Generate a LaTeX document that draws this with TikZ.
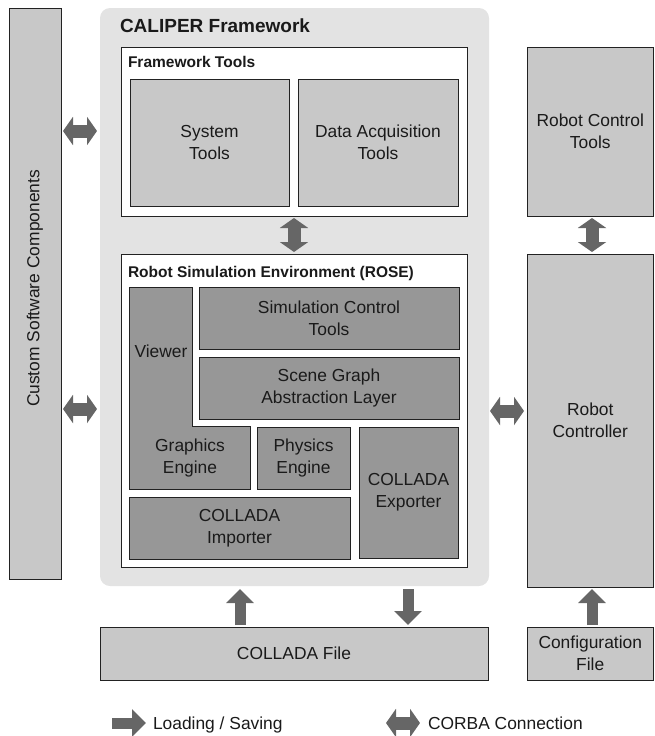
\documentclass[tikz,border=0pt]{standalone}
\usepackage{fontspec}
\setmainfont{Liberation Sans}
\usetikzlibrary{arrows.meta}
\definecolor{lightbox}{HTML}{C8C8C8}
\definecolor{darkbox}{HTML}{979797}
\definecolor{fwbg}{HTML}{E3E3E3}
\definecolor{arrowgray}{HTML}{666666}
\definecolor{edge}{HTML}{222222}
\definecolor{txt}{HTML}{1A1A1A}
\begin{document}
\begin{tikzpicture}[x=1pt,y=-1pt,
  every node/.style={inner sep=0pt, outer sep=0pt, text=txt, align=center,
    font=\fontsize{17.4pt}{21.6pt}\selectfont},
  lbox/.style={draw=edge, line width=0.9pt, fill=lightbox, anchor=north west},
  dbox/.style={draw=edge, line width=0.9pt, fill=darkbox, anchor=north west},
  wbox/.style={draw=edge, line width=0.9pt, fill=white, anchor=north west},
  corba/.style={draw=arrowgray, line width=13pt,
    {Triangle[length=10pt,width=28pt]}-{Triangle[length=10pt,width=28pt]}},
  load/.style={draw=arrowgray, line width=11pt, -{Triangle[length=14pt,width=27pt]}},
  ttl/.style={anchor=base west, font=\bfseries\fontsize{19pt}{22pt}\selectfont},
  sttl/.style={anchor=base west, font=\bfseries\fontsize{15.5pt}{18pt}\selectfont},
]
\useasboundingbox (0,0) rectangle (654,736);

% Custom software components
\node[lbox, minimum width=52pt, minimum height=571pt] (custom) at (9,8) {};
\node[rotate=90] (customlbl) at ([yshift=5pt]custom.center) {Custom Software Components};

% CALIPER framework background
\node[fill=fwbg, rounded corners=10pt, anchor=north west,
      minimum width=389pt, minimum height=578pt] (fw) at (100,8) {};
\node[ttl] (fwtitle) at (120,32) {CALIPER Framework};

% Framework tools
\node[wbox, minimum width=346pt, minimum height=169pt] (ft) at (121,47) {};
\node[sttl] (fttitle) at (128,67.5) {Framework Tools};
\node[lbox, minimum width=159pt, minimum height=127pt] (sys) at (130,79) {System\\Tools};
\node[lbox, minimum width=160pt, minimum height=127pt] (daq) at (298,79) {Data Acquisition\\Tools};

% ROSE
\node[wbox, minimum width=346pt, minimum height=313pt] (rose) at (121,254) {};
\node[sttl] (rosetitle) at (128,277.5) {Robot Simulation Environment (ROSE)};
\draw[draw=edge, line width=0.9pt, fill=darkbox]
  (129,287) -- (192,287) -- (192,426) -- (250,426) -- (250,489) -- (129,489) -- cycle;
\node (viewer) at (161,351) {Viewer};
\node (gfx) at (190,458) {Graphics\\Engine};
\node[dbox, minimum width=260pt, minimum height=62pt] (sim) at (199,287) {Simulation Control\\Tools};
\node[dbox, minimum width=260pt, minimum height=62pt] (scene) at (199,357) {Scene Graph\\Abstraction Layer};
\node[dbox, minimum width=93pt, minimum height=62pt] (phys) at (257,427) {Physics\\Engine};
\node[dbox, minimum width=99pt, minimum height=131pt] (exp) at (359,427) {COLLADA\\Exporter};
\node[dbox, minimum width=221pt, minimum height=62pt] (imp) at (129,497) {COLLADA\\Importer};

% Robot side
\node[lbox, minimum width=126.5pt, minimum height=169pt] (rct) at (527,47) {Robot Control\\Tools};
\node[lbox, minimum width=126.5pt, minimum height=333pt] (rc) at (527,254) {Robot\\Controller};
\node[lbox, minimum width=126.5pt, minimum height=53pt] (conf) at (527,627) {Configuration\\File};

% COLLADA file
\node[lbox, minimum width=388pt, minimum height=53pt] (cfile) at (100,627) {COLLADA File};

% Connectors
\draw[corba, shorten <=2pt, shorten >=3pt] (custom.east |- 0,131) -- (fw.west |- 0,131);
\draw[corba, shorten <=2pt, shorten >=3pt] (custom.east |- 0,409) -- (fw.west |- 0,409);
\draw[corba, shorten <=1pt, shorten >=3pt] (fw.east |- 0,411) -- (rc.west |- 0,411);
\draw[corba, shorten <=2pt, shorten >=2pt] (ft.south -| 294,0) -- (rose.north -| 294,0);
\draw[corba, shorten <=2pt, shorten >=2pt] (rct.south -| 592,0) -- (rc.north -| 592,0);
\draw[load, shorten <=2pt, shorten >=3pt] (cfile.north -| 240,0) -- (fw.south -| 240,0);
\draw[load, shorten <=3pt, shorten >=2pt] (fw.south -| 408,0) -- (cfile.north -| 408,0);
\draw[load, shorten <=2pt, shorten >=2pt] (conf.north -| 592,0) -- (rc.south -| 592,0);

% Legend
\coordinate (lsstart) at (112,723);
\node[anchor=base west] (lstext) at (153,729.5) {Loading / Saving};
\draw[load, shorten >=7pt] (lsstart) -- (lstext.west |- lsstart);
\coordinate (cstart) at (386,723);
\node[anchor=base west] (ctext) at (428,729.5) {CORBA Connection};
\draw[corba, shorten >=8pt] (cstart) -- (ctext.west |- cstart);
\end{tikzpicture}
\end{document}
